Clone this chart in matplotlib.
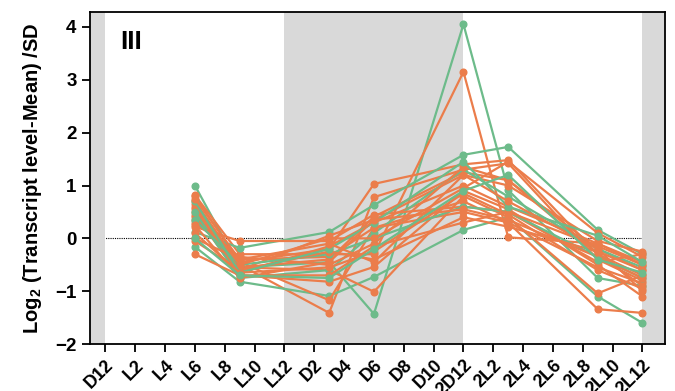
import numpy as np
import matplotlib
matplotlib.use("Agg")
import matplotlib.pyplot as plt

plt.rcParams['font.family'] = ['Liberation Sans', 'DejaVu Sans']
plt.rcParams['font.weight'] = 'bold'
plt.rcParams['mathtext.fontset'] = 'custom'
plt.rcParams['mathtext.rm'] = 'Liberation Sans'
plt.rcParams['mathtext.bf'] = 'Liberation Sans:bold'

# time points in hours (D12 = 0)
hours = [6, 9, 15, 18, 24, 27, 33, 36]
tick_labels = ['D12', 'L2', 'L4', 'L6', 'L8', 'L10', 'L12', 'D2', 'D4', 'D6',
               'D8', 'D10', '2D12', '2L2', '2L4', '2L6', '2L8', '2L10', '2L12']

green_series = [
    [1.00, -0.55, -0.45, -1.43, 4.05, 0.91, -0.75, -0.90],
    [0.12, -0.18, 0.12, 0.63, 1.58, 1.73, 0.16, -0.30],
    [-0.16, -0.82, -1.09, -0.73, 0.16, 0.40, -1.10, -1.60],
    [0.50, -0.75, -0.60, 0.10, 1.30, 0.79, -0.20, -0.55],
    [0.35, -0.50, -0.30, 0.00, 0.60, 0.50, -0.35, -0.75],
    [0.70, -0.65, -0.20, 0.30, 1.45, 0.60, 0.05, -0.45],
    [0.00, -0.70, -0.75, -0.20, 0.90, 1.20, -0.40, -0.65],
]

orange_series = [
    [0.82, -0.30, -0.30, -0.30, 3.15, 0.02, -0.10, -0.50],
    [0.80, -0.45, -0.20, 1.03, 1.40, 1.48, -0.30, -0.70],
    [0.70, -0.50, -1.41, 0.78, 1.30, 1.42, -0.40, -0.80],
    [0.60, -0.55, -0.40, 0.41, 1.25, 1.10, -0.20, -0.60],
    [0.55, -0.60, 0.05, 0.35, 1.20, 1.00, -0.05, -0.25],
    [0.50, -0.65, -0.15, 0.30, 1.00, 0.60, -0.10, -0.45],
    [0.45, -0.70, -0.82, -0.54, 0.90, 0.55, -0.50, -1.10],
    [0.40, -0.55, -0.60, -1.01, 0.80, 0.40, -1.04, -0.70],
    [0.35, -0.45, -1.17, 0.20, 0.70, 0.30, -1.34, -1.41],
    [0.30, -0.35, -0.50, -0.10, 1.35, 1.10, -0.30, -0.90],
    [0.22, -0.05, -0.05, 0.45, 0.60, 0.50, -0.45, -0.30],
    [0.00, -0.40, -0.35, 0.20, 0.50, 0.30, -0.55, -0.85],
    [-0.05, -0.60, -0.25, -0.40, 0.40, 0.22, -0.25, -0.60],
    [-0.30, -0.70, -0.70, -0.15, 0.30, 0.50, -0.15, -0.50],
    [0.65, -0.50, 0.00, 0.00, 0.95, 1.45, 0.10, -0.35],
    [0.75, -0.40, -0.10, -0.45, 1.20, 0.70, -0.20, -1.00],
    [0.25, -0.75, -0.45, 0.35, 0.55, 0.35, -0.35, -0.75],
    [0.10, -0.65, -0.55, -0.25, 0.85, 0.45, -0.60, -0.95],
]

GREEN = '#6dbb8a'
ORANGE = '#eb7d4b'
GRAY = '#d9d9d9'

fig = plt.figure(figsize=(6.75, 3.91), dpi=100)
ax = fig.add_axes([0.134, 0.12, 0.851, 0.849])

ax.axhline(0, color='black', lw=0.8, ls=(0, (1, 1)), zorder=1)
ax.axvspan(-1, 0, color=GRAY, lw=0, zorder=2)
ax.axvspan(12, 24, color=GRAY, lw=0, zorder=2)
ax.axvspan(36, 37.5, color=GRAY, lw=0, zorder=2)

# interleave green and orange lines
order = []
gi, oi = 0, 0
while gi < len(green_series) or oi < len(orange_series):
    if gi < len(green_series):
        order.append((green_series[gi], GREEN)); gi += 1
    for _ in range(3):
        if oi < len(orange_series):
            order.append((orange_series[oi], ORANGE)); oi += 1
for vals, col in order:
    ax.plot(hours, vals, color=col, lw=1.6, marker='o', ms=4.8,
            mec=col, mfc=col, zorder=3)

ax.set_xlim(-1, 37.5)
ax.set_ylim(-2, 4.28)
ax.set_xticks(np.arange(0, 37, 2))
ax.set_xticklabels(tick_labels, rotation=45, ha='right', rotation_mode='anchor',
                   fontsize=13, fontweight='bold')
ax.set_yticks(range(-2, 5))
ax.tick_params(axis='y', labelsize=13.5, width=1.3, length=6, pad=4)
ax.tick_params(axis='x', width=1.3, length=6, pad=3)
for lab in ax.get_yticklabels():
    lab.set_fontweight('bold')
for sp in ax.spines.values():
    sp.set_linewidth(1.3)
    sp.set_zorder(5)

ax.set_ylabel(r'Log$_{\mathregular{2}}$ (Transcript level-Mean) /SD',
              fontsize=14.5, fontweight='bold', labelpad=8)
ax.text(1.7, 3.72, 'III', fontsize=19, fontweight='bold', ha='center', va='center')

fig.savefig('out.png', dpi=100)
